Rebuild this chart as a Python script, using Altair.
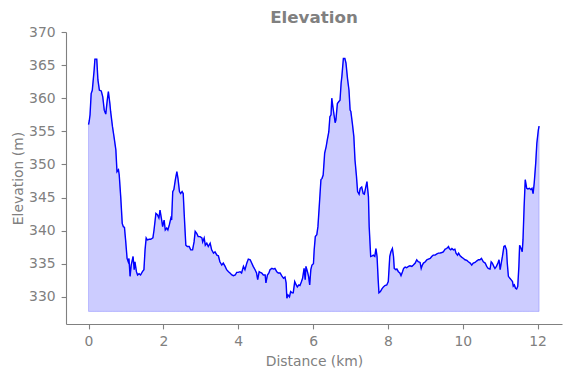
import altair as alt
import pandas as pd

distance_km = [
    0.00, 0.02, 0.04, 0.07, 0.10, 0.15, 0.17, 0.22, 0.25, 0.29, 0.34, 0.38, 0.42, 0.46, 0.50, 0.53,
    0.57, 0.59, 0.64, 0.68, 0.73, 0.76, 0.80, 0.82, 0.86, 0.90, 0.93, 0.96, 0.99, 1.03, 1.06, 1.08,
    1.11, 1.14, 1.19, 1.22, 1.24, 1.28, 1.31, 1.35, 1.39, 1.44, 1.48, 1.51, 1.54, 1.57, 1.62, 1.66,
    1.72, 1.75, 1.80, 1.84, 1.88, 1.91, 1.96, 1.98, 2.02, 2.05, 2.09, 2.12, 2.16, 2.20, 2.22, 2.25,
    2.28, 2.32, 2.36, 2.39, 2.43, 2.46, 2.50, 2.53, 2.56, 2.60, 2.64, 2.69, 2.73, 2.78, 2.82, 2.85,
    2.89, 2.93, 2.98, 3.03, 3.05, 3.09, 3.12, 3.16, 3.20, 3.25, 3.29, 3.34, 3.38, 3.43, 3.47, 3.51,
    3.56, 3.60, 3.65, 3.69, 3.74, 3.78, 3.83, 3.87, 3.92, 3.96, 4.00, 4.05, 4.09, 4.14, 4.18, 4.23,
    4.27, 4.32, 4.36, 4.40, 4.45, 4.49, 4.52, 4.56, 4.59, 4.63, 4.67, 4.72, 4.74, 4.78, 4.82, 4.85,
    4.90, 4.94, 4.98, 5.03, 5.07, 5.12, 5.16, 5.21, 5.25, 5.28, 5.30, 5.33, 5.37, 5.40, 5.44, 5.47,
    5.51, 5.55, 5.58, 5.62, 5.65, 5.69, 5.72, 5.76, 5.79, 5.81, 5.85, 5.88, 5.91, 5.94, 5.97, 6.01,
    6.03, 6.06, 6.10, 6.13, 6.17, 6.21, 6.24, 6.27, 6.31, 6.35, 6.38, 6.42, 6.45, 6.48, 6.50, 6.53,
    6.56, 6.59, 6.61, 6.65, 6.69, 6.72, 6.75, 6.77, 6.81, 6.85, 6.88, 6.92, 6.96, 6.99, 7.01, 7.05,
    7.09, 7.12, 7.16, 7.19, 7.23, 7.26, 7.30, 7.34, 7.37, 7.41, 7.44, 7.48, 7.50, 7.54, 7.58, 7.61,
    7.65, 7.68, 7.71, 7.74, 7.76, 7.80, 7.84, 7.88, 7.92, 7.97, 8.01, 8.05, 8.08, 8.12, 8.15, 8.17,
    8.21, 8.24, 8.28, 8.32, 8.35, 8.39, 8.42, 8.46, 8.50, 8.55, 8.59, 8.64, 8.68, 8.73, 8.77, 8.81,
    8.86, 8.89, 8.92, 8.95, 9.00, 9.04, 9.08, 9.13, 9.17, 9.21, 9.26, 9.31, 9.35, 9.39, 9.44, 9.48,
    9.53, 9.57, 9.62, 9.64, 9.68, 9.71, 9.75, 9.79, 9.82, 9.86, 9.89, 9.93, 9.97, 10.02, 10.06, 10.11,
    10.15, 10.20, 10.24, 10.28, 10.33, 10.37, 10.42, 10.46, 10.50, 10.55, 10.60, 10.64, 10.68, 10.73, 10.76, 10.79,
    10.83, 10.86, 10.90, 10.94, 10.97, 11.00, 11.02, 11.06, 11.10, 11.13, 11.17, 11.19, 11.22, 11.26, 11.29, 11.33,
    11.35, 11.38, 11.41, 11.44, 11.47, 11.50, 11.52, 11.56, 11.59, 11.61, 11.64, 11.67, 11.71, 11.74, 11.78, 11.82,
    11.85, 11.88, 11.91, 11.95, 11.98, 12.02, 12.04,
]

elevation_m = [
    356.0, 356.6, 357.5, 360.7, 361.2, 364.3, 365.9, 365.9, 362.8, 361.2, 361.1, 360.2, 358.2, 357.6, 359.7, 361.0,
    359.2, 358.0, 355.7, 354.2, 352.2, 348.9, 349.2, 348.4, 345.1, 341.1, 340.6, 340.5, 338.6, 335.8, 335.3, 335.8,
    333.1, 334.8, 336.1, 334.1, 335.3, 333.8, 333.3, 333.5, 333.3, 333.8, 334.1, 337.1, 338.9, 338.6, 338.7, 338.7,
    338.9, 340.1, 342.6, 342.4, 341.9, 343.1, 341.4, 340.6, 341.6, 340.1, 340.4, 340.1, 340.9, 341.9, 341.6, 345.9,
    346.2, 347.7, 348.9, 347.9, 345.9, 345.6, 345.9, 345.6, 342.1, 337.8, 337.6, 337.6, 337.1, 337.1, 338.3, 339.9,
    339.6, 339.1, 339.1, 338.9, 338.3, 338.9, 337.8, 338.1, 337.6, 338.1, 337.1, 336.6, 336.8, 336.3, 336.2, 335.3,
    334.8, 335.1, 334.6, 334.1, 333.8, 333.6, 333.3, 333.2, 333.3, 333.7, 333.7, 333.8, 333.6, 334.6, 334.1, 335.1,
    335.7, 335.6, 335.1, 334.6, 334.1, 333.6, 332.6, 333.8, 333.7, 333.6, 333.3, 333.3, 332.1, 333.3, 333.6, 334.1,
    334.3, 334.2, 334.3, 333.8, 333.6, 333.6, 333.2, 332.8, 333.0, 332.1, 329.8, 330.3, 330.0, 330.8, 330.6, 330.6,
    332.3, 331.8, 331.5, 331.8, 331.7, 332.3, 332.8, 334.3, 332.6, 334.6, 333.8, 333.1, 331.8, 334.1, 334.8, 335.0,
    337.1, 339.1, 339.4, 340.6, 344.1, 347.7, 347.9, 348.4, 351.7, 352.7, 353.7, 354.9, 357.2, 357.5, 360.0, 358.7,
    357.5, 356.3, 356.7, 359.2, 359.5, 359.7, 362.3, 363.3, 366.0, 366.0, 365.3, 363.0, 361.2, 358.2, 358.0, 356.2,
    354.2, 350.7, 348.2, 345.9, 345.5, 346.4, 346.6, 345.6, 345.5, 346.6, 347.4, 345.1, 340.6, 336.1, 336.2, 336.3,
    336.1, 337.3, 336.1, 332.6, 330.6, 330.8, 331.2, 331.5, 331.7, 331.8, 332.3, 336.1, 336.8, 337.3, 336.1, 334.3,
    334.1, 334.2, 333.8, 333.6, 333.2, 333.8, 334.3, 334.5, 334.4, 334.6, 334.7, 334.6, 334.8, 335.1, 335.6, 335.3,
    335.2, 334.3, 334.8, 335.1, 335.3, 335.6, 335.7, 335.8, 336.1, 336.3, 336.3, 336.5, 336.6, 336.6, 336.7, 336.8,
    337.2, 337.3, 337.6, 337.3, 337.1, 337.3, 337.1, 337.2, 336.6, 336.3, 336.6, 336.2, 336.0, 335.8, 335.6, 335.5,
    335.3, 335.1, 334.8, 335.1, 335.2, 335.4, 335.6, 335.6, 335.8, 335.3, 335.1, 334.6, 334.3, 334.2, 335.3, 335.1,
    334.6, 334.3, 334.6, 335.1, 335.6, 334.1, 334.8, 336.1, 337.6, 337.7, 337.1, 335.1, 333.1, 332.8, 332.6, 332.3,
    331.6, 331.8, 331.3, 331.2, 331.6, 334.6, 337.8, 337.3, 336.8, 338.6, 343.6, 347.7, 346.4, 346.3, 346.4, 346.2,
    346.4, 345.6, 347.2, 350.2, 353.2, 355.2, 355.8,
]

fill_base_m = 327.8
x_domain = [-0.6025, 12.6525]
y_domain = [325.9, 370]
x_ticks = [0, 2, 4, 6, 8, 10, 12]
y_ticks = [330, 335, 340, 345, 350, 355, 360, 365, 370]

df = pd.DataFrame({"distance": distance_km, "elevation": elevation_m})
df["base"] = fill_base_m

GRAY = "#808080"
FONT = "DejaVu Sans"

x_enc = alt.X(
    "distance:Q",
    scale=alt.Scale(domain=x_domain, nice=False, zero=False),
    axis=alt.Axis(values=x_ticks, title="Distance (km)", titleY=30, titleBaseline="top"),
)
y_enc = alt.Y(
    "elevation:Q",
    scale=alt.Scale(domain=y_domain, nice=False, zero=False),
    axis=alt.Axis(values=y_ticks, title="Elevation (m)", titleX=-48, titleY=146,
                  titleBaseline="middle", titleAlign="center", titleAngle=270),
)

area = alt.Chart(df).mark_area(
    fill="blue", fillOpacity=0.2, stroke="blue", strokeOpacity=0.2, strokeWidth=1
).encode(x=x_enc, y=y_enc, y2="base:Q")

line = alt.Chart(df).mark_line(color="blue", strokeWidth=1.4).encode(x=x_enc, y=y_enc)

chart = (
    alt.layer(area, line)
    .properties(
        width=496,
        height=292,
        title=alt.TitleParams(
            "Elevation", anchor="middle", frame="group", font=FONT, fontSize=16.7,
            fontWeight="bold", color=GRAY, offset=5, dy=7,
        ),
        autosize=alt.AutoSizeParams(type="none"),
        padding={"left": 66, "top": 32, "right": 9, "bottom": 54},
    )
    .configure_view(stroke=None)
    .configure_axis(
        grid=False,
        domainColor=GRAY,
        domainWidth=1.1,
        tickColor=GRAY,
        tickWidth=1.1,
        tickSize=4.9,
        labelColor=GRAY,
        labelFont=FONT,
        labelFontSize=13.9,
        labelPadding=6,
        labelFlush=False,
        labelOverlap=False,
        titleColor=GRAY,
        titleFont=FONT,
        titleFontSize=13.9,
        titleFontWeight="normal",
    )
)

chart.save("out.html", embed_options={"renderer": "svg", "actions": False})
